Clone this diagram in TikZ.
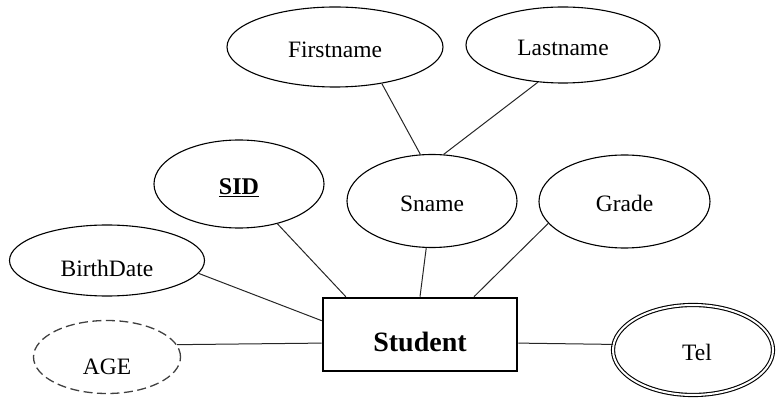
\documentclass[tikz,border=0pt]{standalone}
\usepackage{fontspec}
\setmainfont{Liberation Serif}
\usepackage{tikz}
\usetikzlibrary{shapes.geometric}
\usetikzlibrary{positioning}
\tikzset{%
  attr/.style={ellipse, draw, line width=1.1pt, inner sep=0pt, text depth=0pt, font=\fontsize{23.5}{25}\selectfont},
  key attr/.style={attr, font=\fontsize{24}{26}\selectfont\bfseries},
  derived attr/.style={attr, draw=black!75, line width=1.3pt, dash pattern=on 9pt off 4.5pt},
  multi attr/.style={attr, double, double distance=2pt, line width=1.1pt},
  entity/.style={rectangle, draw, line width=2.6pt, inner sep=0pt, text depth=0pt, font=\fontsize{28}{30}\selectfont\bfseries},
  link/.style={line width=1pt, black!85}
}
\begin{document}
\begin{tikzpicture}[x=1pt, y=-1pt]
          \useasboundingbox (0,0) rectangle (777,398);

          \node[entity, minimum width=194pt, minimum height=73pt, text height=33.6pt] (student) at (420,334.5) {Student};

          \node[attr, minimum width=216pt, minimum height=80pt, text height=21.6pt] (firstname) at (335,47) {Firstname};
          \node[attr, minimum width=194pt, minimum height=76pt, text height=20.6pt] (lastname) at (563,45) {Lastname};
          \node[key attr, minimum width=170pt, minimum height=88pt, text height=22pt] (sid) at (239,184) {\underline{SID}};
          \node[attr, minimum width=170pt, minimum height=93pt, text height=21.6pt] (sname) at (432,201) {Sname};
          \node[attr, minimum width=171pt, minimum height=93pt, text height=20.6pt] (grade) at (624.5,201.5) {Grade};
          \node[attr, minimum width=195pt, minimum height=71pt, text height=32.6pt] (birthdate) at (107,260.5) {BirthDate\hspace{12pt}};
          \node[derived attr, minimum width=147pt, minimum height=73pt, text height=35.6pt] (age) at (107,357) {AGE};
          \node[multi attr, minimum width=160pt, minimum height=90pt, text height=21.6pt] (tel) at (693,350) {\hspace{8pt}Tel};

          % composite attribute
          \draw[link] (firstname.-38) -- (sname.104);
          \draw[link] (lastname.-124) -- (sname.76);

          % attributes of the entity
          \draw[link] (sname.-97) -- (student.north);
          \draw[link] (sid.-46) -- (student.153);
          \draw[link] (birthdate.-8) -- (student.172);
          \draw[link] (age.10) -- (student.185.6);
          \draw[link] (grade.196) -- (student.35.8);
          \draw[link] (tel.176) -- (student.-5.6);
        \end{tikzpicture}
\end{document}
